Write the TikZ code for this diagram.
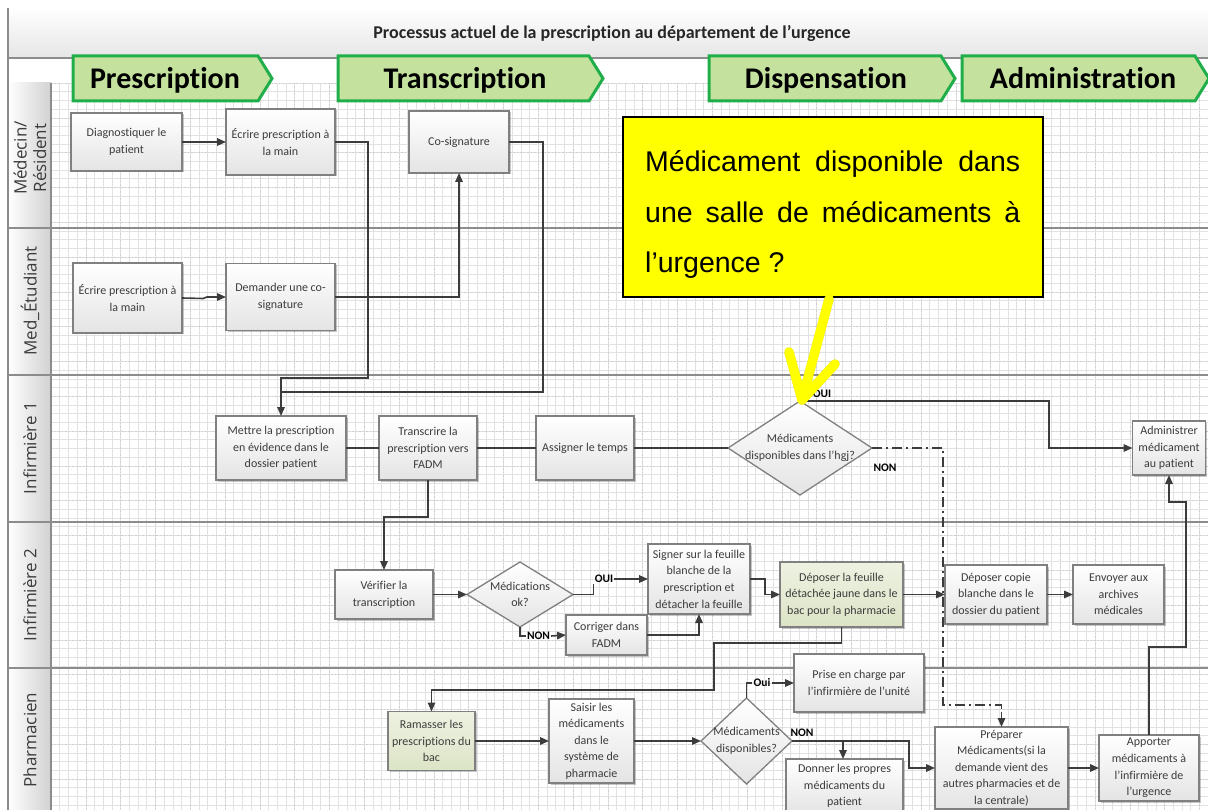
\documentclass[tikz,border=0pt]{standalone}
\usepackage{fontspec}
\setmainfont{Carlito}[Ligatures=NoCommon]
\newfontfamily\lanefont{Open Sans}
\newfontfamily\notefont{Liberation Sans}
\usetikzlibrary{arrows.meta,shadows,shapes.geometric}

\definecolor{linec}{HTML}{3C3C3C}
\definecolor{boxedge}{HTML}{808080}
\definecolor{boxtext}{HTML}{3C3C3C}
\definecolor{boxlow}{HTML}{E4E4E4}
\definecolor{greenhi}{HTML}{EEF2E2}
\definecolor{greenlo}{HTML}{DCE4C6}
\definecolor{chevfill}{HTML}{C4E29E}
\definecolor{chevedge}{HTML}{20AE4A}
\definecolor{gridc}{HTML}{E2E2E2}
\definecolor{gridd}{HTML}{CFCFCF}
\definecolor{lanec}{HTML}{8C8C8C}
\definecolor{notey}{HTML}{FFFF00}

\begin{document}
\begin{tikzpicture}[x=1pt,y=-1pt,
  procbox/.style={draw=boxedge, line width=1.3pt, top color=white, bottom color=boxlow,
    align=center, inner sep=1pt, outer sep=0pt, text=boxtext,
    font=\fontsize{12}{16.6}\selectfont,
    drop shadow={shadow xshift=1.5pt, shadow yshift=-1.5pt, opacity=0.22, fill=black}},
  greenbox/.style={procbox, top color=greenhi, bottom color=greenlo},
  decision/.style={diamond, draw=boxedge, line width=1.3pt, top color=white, bottom color=boxlow,
    inner sep=0pt, outer sep=0pt},
  dtext/.style={align=center, text=boxtext, font=\fontsize{12}{16.6}\selectfont, inner sep=0pt},
  conn/.style={draw=linec, line width=1.6pt},
  arr/.style={conn, -{Triangle[length=9pt,width=7.5pt]}},
  dashdotline/.style={conn, dash pattern=on 10pt off 4pt on 2pt off 4pt},
  lab/.style={font=\fontsize{11.5}{13}\selectfont\bfseries, text=black, inner sep=1pt},
  lanelbl/.style={rotate=90, align=center, text=boxtext, font=\lanefont\fontsize{17}{19.5}\selectfont},
  chev/.style={draw=chevedge, line width=3pt, fill=chevfill, line join=miter},
  chevtext/.style={anchor=base, font=\fontsize{30}{34}\selectfont\bfseries, text=black, inner sep=0pt},
  framel/.style={draw=lanec, line width=1.4pt},
]
\useasboundingbox (0,0) rectangle (1208,810);
\clip (0,0) rectangle (1208,810);

% backgrounds: title band, phase band, lane header column
\fill[white] (0,0) rectangle (1208,810);
\fill[top color=white, bottom color=black!10] (8,8) rectangle (1208,58);
\fill[left color=white, right color=black!18] (8,83) rectangle (51,810);

% grid paper
\foreach \i in {0,...,133}
  \draw[gridc, line width=0.5pt] ({51+8.7*\i},83) -- ({51+8.7*\i},810);
\foreach \j in {0,...,84}
  \draw[gridc, line width=0.5pt] (51,{83+8.7*\j}) -- (1208,{83+8.7*\j});
\foreach \i in {0,...,33}
  \draw[gridd, line width=0.5pt, dash pattern=on 1.5pt off 2pt] ({51+34.8*\i},83) -- ({51+34.8*\i},810);
\foreach \j in {0,...,21}
  \draw[gridd, line width=0.5pt, dash pattern=on 1.5pt off 2pt] (51,{83+34.8*\j}) -- (1208,{83+34.8*\j});

% frame and swimlane separators
\draw[framel] (8,8) -- (8,810);
\draw[framel] (8,58) -- (1208,58);
\draw[framel] (51,83) -- (51,810);
\foreach \y in {228,375,522,668}
  \draw[framel] (8,\y) -- (1208,\y);

% title
\node[font=\fontsize{18}{21}\selectfont\bfseries, text=black!85] (title) at (612,33)
  {Processus actuel de la prescription au département de l’urgence};

% phase chevrons
\draw[chev] (73,56) -- (258,56) -- (272,78.5) -- (258,101) -- (73,101) -- cycle;
\node[chevtext] (ph1) at (165,89) {Prescription};
\draw[chev] (338,56) -- (589,56) -- (603,78.5) -- (589,101) -- (338,101) -- cycle;
\node[chevtext] (ph2) at (465,89) {Transcription};
\draw[chev] (709,56) -- (941,56) -- (955,78.5) -- (941,101) -- (709,101) -- cycle;
\node[chevtext] (ph3) at (826,89) {Dispensation};
\draw[chev] (962,56) -- (1195,56) -- (1209,78.5) -- (1195,101) -- (962,101) -- cycle;
\node[chevtext] (ph4) at (1083,89) {Administration};

% lane titles
\node[lanelbl] (lane1) at (30,158) {Médecin/\\Résident};
\node[lanelbl] (lane2) at (30,301) {Med\_Étudiant};
\node[lanelbl] (lane3) at (30,448) {Infirmière 1};
\node[lanelbl] (lane4) at (30,595) {Infirmière 2};
\node[lanelbl] (lane5) at (30,740) {Pharmacien};

% Médecin / Résident
\node[procbox, minimum width=111, minimum height=58] (diag) at (126.5,142) {Diagnostiquer le\\patient};
\node[procbox, minimum width=109, minimum height=66] (ecr1) at (280.5,142) {Écrire prescription à\\la main};
\node[procbox, minimum width=100, minimum height=62] (cosig) at (459,142) {Co-signature};

% Med_Étudiant
\node[procbox, minimum width=109, minimum height=70] (ecr2) at (127.5,298) {Écrire prescription à\\la main};
\node[procbox, minimum width=109, minimum height=67] (dem) at (280.5,297) {Demander une co-\\signature};

% Infirmière 1
\node[procbox, minimum width=130, minimum height=64] (mettre) at (281,448) {Mettre la prescription\\en évidence dans le\\dossier patient};
\node[procbox, minimum width=98, minimum height=64] (transc) at (428,448) {Transcrire la\\prescription vers\\FADM};
\node[procbox, minimum width=98, minimum height=64] (assign) at (585,448) {Assigner le temps};
\node[decision, minimum width=144, minimum height=94] (dhgj) at (800,448) {};
\node[dtext] (dhgjt) at (dhgj) {Médicaments\\disponibles dans l’hgj?};
\node[procbox, minimum width=73, minimum height=54] (admin) at (1169,448) {Administrer\\médicament\\au patient};

% Infirmière 2
\node[procbox, minimum width=98, minimum height=49] (verif) at (384,594.5) {Vérifier la\\transcription};
\node[decision, minimum width=106, minimum height=65] (dok) at (520,594.5) {};
\node[dtext] (dokt) at (dok) {Médications\\ok?};
\node[procbox, minimum width=81, minimum height=40] (corr) at (606.5,635) {Corriger dans\\FADM};
\node[procbox, minimum width=102, minimum height=70] (signer) at (699,579) {Signer sur la feuille\\blanche de la\\prescription et\\détacher la feuille};
\node[greenbox, minimum width=123, minimum height=65] (depj) at (841.5,594.5) {Déposer la feuille\\détachée jaune dans le\\bac pour la pharmacie};
\node[procbox, minimum width=102, minimum height=59] (depc) at (996,594.5) {Déposer copie\\blanche dans le\\dossier du patient};
\node[procbox, minimum width=91, minimum height=59] (arch) at (1118.5,594.5) {Envoyer aux\\archives\\médicales};

% Pharmacien
\node[greenbox, minimum width=87, minimum height=59] (ramas) at (431.5,741) {Ramasser les\\prescriptions du\\bac};
\node[procbox, minimum width=85, minimum height=84] (saisir) at (591.5,741) {Saisir les\\médicaments\\dans le\\système de\\pharmacie};
\node[decision, minimum width=91, minimum height=86] (ddisp) at (746.5,741) {};
\node[dtext] (ddispt) at (ddisp) {Médicaments\\disponibles?};
\node[procbox, minimum width=130, minimum height=58] (prise) at (859,683) {Prise en charge par\\l’infirmière de l’unité};
\node[procbox, minimum width=117, minimum height=54] (donner) at (844.5,786) {Donner les propres\\médicaments du\\patient};
\node[procbox, minimum width=133, minimum height=82] (prep) at (1001.5,768) {Préparer\\Médicaments(si la\\demande vient des\\autres pharmacies et de\\la centrale)};
\node[procbox, minimum width=100, minimum height=66] (appor) at (1149,768) {Apporter\\médicaments à\\l’infirmière de\\l’urgence};

% branch labels
\node[lab] (oui1) at (822,394) {OUI};
\node[lab] (non1) at (885,468) {NON};
\node[lab] (oui2) at (604,579) {OUI};
\node[lab] (non2) at (538.5,636) {NON};
\node[lab] (oui3) at (762,683) {Oui};
\node[lab] (non3) at (802,733) {NON};

% connectors: prescription
\draw[arr] (diag) -- (ecr1);
\draw[arr] (ecr1.east) -| (368,378) -| (mettre.north);
\draw[conn] (cosig.east) -| (543,392) -- (281,392);
\draw[arr] (ecr2.east) -- (203,298.5) -- (207,297) -- (dem.west);
\draw[arr] (dem.east) -| (cosig.south);

% connectors: transcription
\draw[conn] (mettre) -- (transc);
\draw[conn] (transc) -- (assign);
\draw[conn] (assign) -- (dhgj.west);
\draw[arr] (dhgj.north) -| (1049,448) -- (admin.west);
\draw[dashdotline] (dhgj.east) -| (943,705) -| (1001.5,712);
\draw[arr] (1001.5,712) -- (prep.north);
\draw[arr] (transc.south) |- (384,517) -- (verif.north);
\draw[arr] (verif) -- (dok.west);
\draw[conn] (dok.east) -| (oui2.south west);
\draw[arr] (oui2.east) -- (signer.west);
\draw[conn] (dok.south) |- (non2.west);
\draw[arr] (non2.east) -- (corr.west);
\draw[arr] (corr.east) -| (signer.south);
\draw[arr] (signer.east) -- (765,579) |- (depj.west);
\draw[arr] (depj) -- (depc);
\draw[arr] (depc) -- (arch);

% connectors: dispensation
\draw[arr] (depj.south) |- (714,643) |- (431.5,690) -- (ramas.north);
\draw[arr] (ramas) -- (saisir);
\draw[arr] (saisir) -- (ddisp.west);
\draw[conn] (ddisp.north) |- (oui3.west);
\draw[arr] (oui3.east) -- (prise.west);
\draw[arr] (ddisp.east) -- (909,741) |- (prep.west);
\draw[arr] (843,741) -- (843,759);
\draw[arr] (prep) -- (appor);
\draw[arr] (appor.north) |- (1186,647) |- (1169,502) -- (admin.south);

% callout
\node[draw=black, line width=2pt, fill=notey, minimum width=420, minimum height=180, inner sep=0pt] (note) at (833,207) {};
\node[anchor=base west, inner sep=0pt, text=black] (notetext) at (645,172)
  {\parbox[t]{375pt}{\notefont\fontsize{28.5}{50.5}\selectfont
   Médicament disponible dans une salle de médicaments à l’urgence\nobreakspace?}};
\coordinate (tipbase) at (829,299);
\coordinate (tip) at (802,400);
\coordinate (barbl) at (789,352);
\coordinate (barbr) at (835,364);
\begin{scope}[line width=9.5pt, line cap=round, line join=round]
  \draw[black, opacity=0.18, shift={(2,2)}] (tipbase) -- (tip) (barbl) -- (tip) -- (barbr);
  \draw[notey] (tipbase) -- (tip) (barbl) -- (tip) -- (barbr);
\end{scope}
\end{tikzpicture}
\end{document}
